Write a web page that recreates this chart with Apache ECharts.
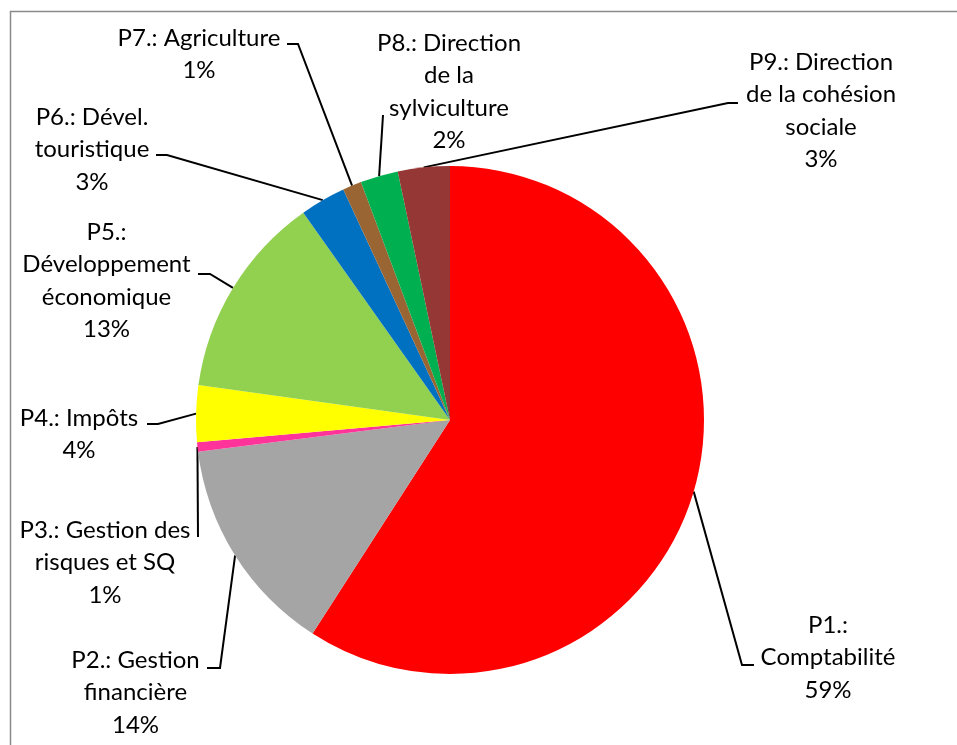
<!DOCTYPE html>
<html>
<head>
<meta charset="utf-8">
<title>Répartition par programme</title>
<script src="https://cdn.jsdelivr.net/npm/echarts@6/dist/echarts.min.js"></script>
<style>
  html, body { margin: 0; padding: 0; background: #ffffff; }
  #chart { width: 957px; height: 745px; }
</style>
</head>
<body>
<div id="chart"></div>
<script>
// Programme names (line breaks as shown in the labels)
const programmes = [
  'P1.:\nComptabilité',
  'P2.: Gestion\nfinancière',
  'P3.: Gestion des\nrisques et SQ',
  'P4.: Impôts',
  'P5.:\nDéveloppement\néconomique',
  'P6.: Dével.\ntouristique',
  'P7.: Agriculture',
  'P8.: Direction\nde la\nsylviculture',
  'P9.: Direction\nde la cohésion\nsociale'
];

// Share of each programme (percent)
const shares = [59.1, 13.9, 0.6, 3.6, 13.0, 2.9, 1.2, 2.4, 3.3];

// Slice colours
const sliceColors = [
  '#FF0000', '#A5A5A5', '#FF3399', '#FFFF00', '#92D050',
  '#0070C0', '#996633', '#00B050', '#953735'
];

// Label placement: centre x of the text block, centre y of its first line,
// the elbow of the leader line and the point where it meets the text.
const LINE_H = 32.5;
const labelPlacement = [
  { cx: 828,   y: 625, elbow: [742, 665], end: [754, 665] },
  { cx: 135.5, y: 660, elbow: [220, 668], end: [207, 668] },
  { cx: 105,   y: 530, elbow: [198, 537], end: [198, 537] },
  { cx: 79,    y: 418, elbow: [158, 424], end: [147, 424] },
  { cx: 106.5, y: 232, elbow: [210, 274], end: [198, 274] },
  { cx: 92,    y: 117, elbow: [167, 155], end: [156, 155] },
  { cx: 199,   y: 38,  elbow: [298, 44],  end: [287, 44] },
  { cx: 449,   y: 43,  elbow: [383, 115], end: [383, 115] },
  { cx: 821,   y: 62,  elbow: [728, 103], end: [738, 103] }
];

const chart = echarts.init(document.getElementById('chart'), null, { renderer: 'canvas' });

const pieData = programmes.map((name, i) => ({
  name: name,
  value: shares[i],
  itemStyle: { color: sliceColors[i] }
}));

chart.setOption({
  animation: false,
  backgroundColor: '#ffffff',
  graphic: [{
    type: 'rect',
    shape: { x: 10.5, y: 11.5, width: 1200, height: 1000 },
    style: { fill: 'none', stroke: '#8a8a8a', lineWidth: 1.5 },
    silent: true,
    z: 0
  }],
  series: [{
    type: 'pie',
    center: [450, 420],
    radius: 254,
    startAngle: 90,
    clockwise: true,
    percentPrecision: 0,
    avoidLabelOverlap: false,
    emphasis: { disabled: true },
    itemStyle: { borderWidth: 0 },
    label: {
      show: true,
      position: 'outside',
      formatter: '{b}\n{d}%',
      fontFamily: 'Lato',
      fontSize: 24,
      lineHeight: LINE_H,
      color: '#000000',
      align: 'center'
    },
    labelLine: {
      show: true,
      smooth: false,
      lineStyle: { color: '#000000', width: 2 }
    },
    labelLayout: function (params) {
      const p = labelPlacement[params.dataIndex];
      const anchor = params.labelLinePoints && params.labelLinePoints[0];
      const out = {
        x: p.cx,
        y: p.y - LINE_H / 2,
        align: 'center',
        verticalAlign: 'top'
      };
      if (anchor) {
        out.labelLinePoints = [anchor, p.elbow, p.end];
      }
      return out;
    },
    data: pieData
  }]
});
</script>
</body>
</html>
